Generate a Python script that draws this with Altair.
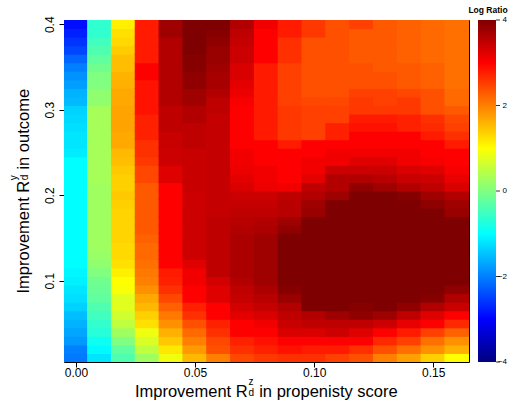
import altair as alt
import pandas as pd

FONT = "Liberation Sans"

# grid centres
x_vals = [0.00, 0.01, 0.02, 0.03, 0.04, 0.05, 0.06, 0.07, 0.08,
          0.09, 0.10, 0.11, 0.12, 0.13, 0.14, 0.15, 0.16]
y_vals = [0.01, 0.02, 0.03, 0.04, 0.05, 0.06, 0.07, 0.08, 0.09, 0.10,
          0.11, 0.12, 0.13, 0.14, 0.15, 0.16, 0.17, 0.18, 0.19, 0.20,
          0.21, 0.22, 0.23, 0.24, 0.25, 0.26, 0.27, 0.28, 0.29, 0.30,
          0.31, 0.32, 0.33, 0.34, 0.35, 0.36, 0.37, 0.38, 0.39, 0.40]

# log ratio per column (bottom -> top)
col_x000 = [-2.05, -2.0, -1.8, -1.7, -1.6, -1.5, -1.35, -1.25, -1.2, -1.1,
            -1.06, -1.0, -1.0, -1.0, -1.0, -1.0, -1.0, -1.0, -1.0, -1.0,
            -1.0, -1.0, -1.0, -1.0, -1.15, -1.2, -1.2, -1.25, -1.3, -1.35,
            -1.55, -1.6, -1.75, -1.85, -2.0, -2.2, -2.45, -2.6, -2.75, -2.9]
col_x001 = [-1.2, -1.03, -0.9, -0.7, -0.6, -0.5, -0.38, -0.25, -0.18, -0.12,
            0.0, 0.12, 0.2, 0.25, 0.25, 0.25, 0.25, 0.25, 0.25, 0.25,
            0.25, 0.3, 0.3, 0.3, 0.3, 0.3, 0.3, 0.3, 0.3, 0.3,
            0.12, 0.12, 0.0, 0.0, -0.12, -0.25, -0.38, -0.5, -0.62, -0.62]
col_x002 = [-0.38, -0.25, 0.0, 0.25, 0.5, 0.63, 0.76, 0.76, 0.95, 1.0,
            1.12, 1.24, 1.3, 1.3, 1.34, 1.34, 1.34, 1.34, 1.37, 1.43,
            1.37, 1.37, 1.43, 1.5, 1.55, 1.68, 1.68, 1.72, 1.72, 1.72,
            1.68, 1.68, 1.62, 1.6, 1.5, 1.5, 1.4, 1.3, 1.24, 1.12]
col_x003 = [0.25, 0.5, 0.7, 0.88, 1.24, 1.37, 1.56, 1.68, 1.87, 2.0,
            2.06, 2.12, 2.18, 2.18, 2.25, 2.3, 2.3, 2.3, 2.3, 2.3,
            2.3, 2.44, 2.44, 2.56, 2.62, 2.62, 2.75, 2.75, 2.75, 2.85,
            2.85, 2.85, 2.85, 3.0, 3.0, 2.8, 2.8, 2.8, 2.8, 2.8]
col_x004 = [0.88, 1.18, 1.43, 1.62, 1.87, 2.06, 2.25, 2.44, 2.62, 2.75,
            2.8, 3.0, 3.0, 3.0, 3.0, 3.0, 3.0, 3.0, 3.0, 3.0,
            3.0, 3.25, 3.25, 3.4, 3.4, 3.43, 3.43, 3.5, 3.5, 3.5,
            3.6, 3.6, 3.6, 3.6, 3.6, 3.6, 3.6, 3.6, 3.75, 3.75]
col_x005 = [1.56, 1.8, 2.0, 2.18, 2.37, 2.62, 2.75, 3.0, 3.0, 3.1,
            3.1, 3.25, 3.4, 3.4, 3.4, 3.4, 3.4, 3.4, 3.4, 3.4,
            3.43, 3.43, 3.43, 3.43, 3.43, 3.5, 3.5, 3.5, 3.6, 3.6,
            3.75, 3.75, 3.87, 3.87, 3.94, 3.94, 4.0, 4.0, 4.0, 4.0]
col_x006 = [2.0, 2.37, 2.44, 2.62, 2.75, 3.0, 3.0, 3.25, 3.25, 3.35,
            3.5, 3.5, 3.5, 3.5, 3.5, 3.5, 3.5, 3.45, 3.45, 3.45,
            3.45, 3.45, 3.45, 3.45, 3.45, 3.45, 3.45, 3.45, 3.45, 3.5,
            3.5, 3.6, 3.68, 3.68, 3.75, 3.8, 3.8, 3.87, 3.94, 4.0]
col_x007 = [2.44, 2.62, 2.75, 3.0, 3.0, 3.2, 3.35, 3.45, 3.5, 3.6,
            3.65, 3.65, 3.65, 3.65, 3.65, 3.6, 3.55, 3.5, 3.45, 3.4,
            3.3, 3.2, 3.15, 3.1, 3.1, 3.0, 3.0, 3.0, 3.0, 3.0,
            3.05, 3.15, 3.2, 3.3, 3.3, 3.4, 3.4, 3.45, 3.5, 3.6]
col_x008 = [2.56, 2.75, 2.87, 3.0, 3.1, 3.3, 3.45, 3.55, 3.65, 3.75,
            3.75, 3.75, 3.75, 3.75, 3.75, 3.65, 3.6, 3.5, 3.45, 3.4,
            3.15, 3.1, 3.1, 3.0, 3.0, 3.0, 2.8, 2.8, 2.8, 2.8,
            2.8, 2.8, 2.8, 2.8, 2.8, 3.0, 3.0, 3.0, 3.0, 3.1]
col_x009 = [2.62, 2.87, 3.0, 3.3, 3.43, 3.5, 3.6, 3.8, 3.94, 4.0,
            4.0, 4.0, 4.0, 4.0, 4.0, 3.87, 3.75, 3.55, 3.55, 3.5,
            3.1, 3.0, 3.0, 3.0, 3.0, 2.8, 2.56, 2.56, 2.56, 2.56,
            2.5, 2.5, 2.5, 2.5, 2.5, 2.62, 2.62, 2.62, 2.8, 2.8]
col_x010 = [2.62, 2.8, 3.0, 3.3, 3.5, 3.6, 4.0, 4.0, 4.0, 4.0,
            4.0, 4.0, 4.0, 4.0, 4.0, 4.0, 4.0, 3.8, 3.75, 3.6,
            3.5, 3.2, 3.1, 3.1, 3.0, 3.0, 2.5, 2.5, 2.5, 2.5,
            2.44, 2.37, 2.37, 2.37, 2.37, 2.37, 2.37, 2.37, 2.56, 2.56]
col_x011 = [2.5, 2.8, 3.0, 3.4, 3.5, 3.75, 4.0, 4.0, 4.0, 4.0,
            4.0, 4.0, 4.0, 4.0, 4.0, 4.0, 4.0, 4.0, 4.0, 3.75,
            3.6, 3.6, 3.4, 3.1, 3.1, 3.0, 2.75, 2.75, 2.5, 2.5,
            2.44, 2.37, 2.37, 2.37, 2.37, 2.37, 2.37, 2.37, 2.37, 2.37]
col_x012 = [2.37, 2.62, 3.0, 3.25, 3.5, 3.87, 3.94, 4.0, 4.0, 4.0,
            4.0, 4.0, 4.0, 4.0, 4.0, 4.0, 4.0, 4.0, 4.0, 4.0,
            3.87, 3.6, 3.4, 3.25, 3.1, 3.0, 3.0, 2.87, 2.8, 2.56,
            2.56, 2.5, 2.37, 2.37, 2.37, 2.3, 2.3, 2.3, 2.3, 2.5]
col_x013 = [2.0, 2.37, 2.68, 3.0, 3.4, 3.75, 4.0, 4.0, 4.0, 4.0,
            4.0, 4.0, 4.0, 4.0, 4.0, 4.0, 4.0, 4.0, 4.0, 4.0,
            3.75, 3.55, 3.4, 3.25, 3.1, 3.0, 3.0, 2.87, 2.8, 2.56,
            2.5, 2.5, 2.37, 2.37, 2.3, 2.3, 2.3, 2.3, 2.3, 2.3]
col_x014 = [1.75, 2.12, 2.5, 2.8, 3.17, 3.5, 3.87, 4.0, 4.0, 4.0,
            4.0, 4.0, 4.0, 4.0, 4.0, 4.0, 4.0, 4.0, 4.0, 3.94,
            3.6, 3.43, 3.3, 3.1, 3.1, 3.0, 3.0, 2.75, 2.75, 2.56,
            2.56, 2.44, 2.3, 2.3, 2.3, 2.25, 2.25, 2.25, 2.25, 2.25]
col_x015 = [1.37, 1.87, 2.12, 2.5, 3.0, 3.25, 3.6, 3.94, 4.0, 4.0,
            4.0, 4.0, 4.0, 4.0, 4.0, 4.0, 4.0, 4.0, 3.87, 3.75,
            3.5, 3.4, 3.25, 3.05, 3.0, 3.0, 2.8, 2.68, 2.62, 2.37,
            2.37, 2.37, 2.25, 2.25, 2.25, 2.18, 2.18, 2.18, 2.18, 2.18]
col_x016 = [1.0, 1.62, 1.87, 2.25, 2.68, 3.0, 3.43, 3.6, 3.87, 4.0,
            4.0, 4.0, 4.0, 4.0, 4.0, 4.0, 4.0, 3.8, 3.75, 3.6,
            3.3, 3.17, 3.05, 3.0, 3.0, 2.8, 2.62, 2.5, 2.44, 2.3,
            2.18, 2.18, 2.12, 2.12, 2.12, 2.12, 2.12, 2.12, 2.12, 2.12]

columns = [col_x000, col_x001, col_x002, col_x003, col_x004, col_x005,
           col_x006, col_x007, col_x008, col_x009, col_x010, col_x011,
           col_x012, col_x013, col_x014, col_x015, col_x016]

legend_values = [4, 2, 0, -2, -4]
legend_labels = ["4", "2", "0", "\u22122", "\u22124"]
x_ticks = [0.00, 0.05, 0.10, 0.15]
y_ticks = [0.1, 0.2, 0.3, 0.4]

records = []
for xv, col in zip(x_vals, columns):
    for yv, v in zip(y_vals, col):
        records.append({"x": xv, "y": yv, "v": v})
df = pd.DataFrame(records)
leg_df = pd.DataFrame({"v": legend_values, "t": legend_labels})

jet_domain = [-4, -3, -1, 1, 3, 4]
jet_range = ["#00007F", "#0000FF", "#00FFFF", "#FFFF00", "#FF0000", "#7F0000"]
cscale = alt.Scale(domain=jet_domain, range=jet_range, interpolate="rgb", clamp=True)

# cells drawn with a hair of overlap so that no seams show between them
heat = (
    alt.Chart(df)
    .transform_calculate(
        x0="datum.x - 0.0053", x1="datum.x + 0.0053",
        y0="datum.y - 0.0056", y1="datum.y + 0.0056",
    )
    .mark_rect(clip=True)
    .encode(
        x=alt.X("x0:Q", scale=alt.Scale(domain=[-0.005, 0.165], nice=False, zero=False),
                axis=alt.Axis(values=x_ticks, format=".2f", title=None, labelPadding=0)),
        x2="x1:Q",
        y=alt.Y("y0:Q", scale=alt.Scale(domain=[0.005, 0.405], nice=False, zero=False),
                axis=alt.Axis(values=y_ticks, format=".1f", title=None, labelAngle=270,
                              labelAlign="center", labelBaseline="bottom", labelPadding=3)),
        y2="y1:Q",
        color=alt.Color("v:Q", scale=cscale,
                        legend=alt.Legend(type="gradient", title=None, orient="none",
                                          legendX=414, legendY=0,
                                          direction="vertical", gradientLength=342,
                                          gradientThickness=18, gradientStrokeWidth=0,
                                          labelExpr="''", padding=0)),
    )
)

leg_scale = alt.Scale(domain=[-4, 4], nice=False, zero=False)
leg_ticks = alt.Chart(leg_df).mark_rule(color="black", strokeWidth=0.8).encode(
    y=alt.Y("v:Q", scale=leg_scale, axis=None),
    x=alt.value(432), x2=alt.value(436),
)
leg_text = alt.Chart(leg_df).mark_text(
    align="right", baseline="middle", fontSize=8, font=FONT, color="black"
).encode(
    y=alt.Y("v:Q", scale=leg_scale, axis=None),
    x=alt.value(443),
    text="t:N",
)


def label(text, x, y, size, angle=0, align="left", baseline="alphabetic", weight="normal"):
    return alt.Chart(alt.Data(values=[{}])).mark_text(
        text=text, align=align, baseline=baseline, fontSize=size, angle=angle,
        font=FONT, fontWeight=weight, color="black",
    ).encode(x=alt.value(x), y=alt.value(y))


MAIN = 16.5
SCRIPT = 10
# x-axis title
xt1 = label("Improvement R", 70.9, 376.5, MAIN)
xt_sup = label("z", 184.4, 364.5, SCRIPT)
xt_sub = label("d", 184.4, 375.5, SCRIPT)
xt2 = label("in propenisty score", 195.2, 376.5, MAIN)
# y-axis title (rotated)
yt1 = label("Improvement R", -35.5, 273.5, MAIN, angle=270)
yt_sup = label("y", -47.5, 160.2, SCRIPT, angle=270)
yt_sub = label("d", -36.5, 160.2, SCRIPT, angle=270)
yt2 = label("in outcome", -35.5, 149.6, MAIN, angle=270)
# legend title
lt = label("Log Ratio", 424, -10, 8.5, align="center", baseline="middle", weight="bold")

chart = (
    alt.layer(heat, leg_ticks, leg_text, xt1, xt_sup, xt_sub, xt2,
              yt1, yt_sup, yt_sub, yt2, lt)
    .resolve_scale(y="independent")
    .properties(
        width=405, height=342,
        autosize=alt.AutoSizeParams(type="none"),
        padding={"left": 64, "top": 20, "right": 47, "bottom": 44},
        background="white",
    )
    .configure_view(stroke="black", strokeWidth=1)
    .configure_axis(labelFont=FONT, labelFontSize=12, labelColor="black",
                    tickColor="black", tickSize=5, domain=False, grid=False)
)

chart.save("out.html", embed_options={"renderer": "svg", "actions": False})
